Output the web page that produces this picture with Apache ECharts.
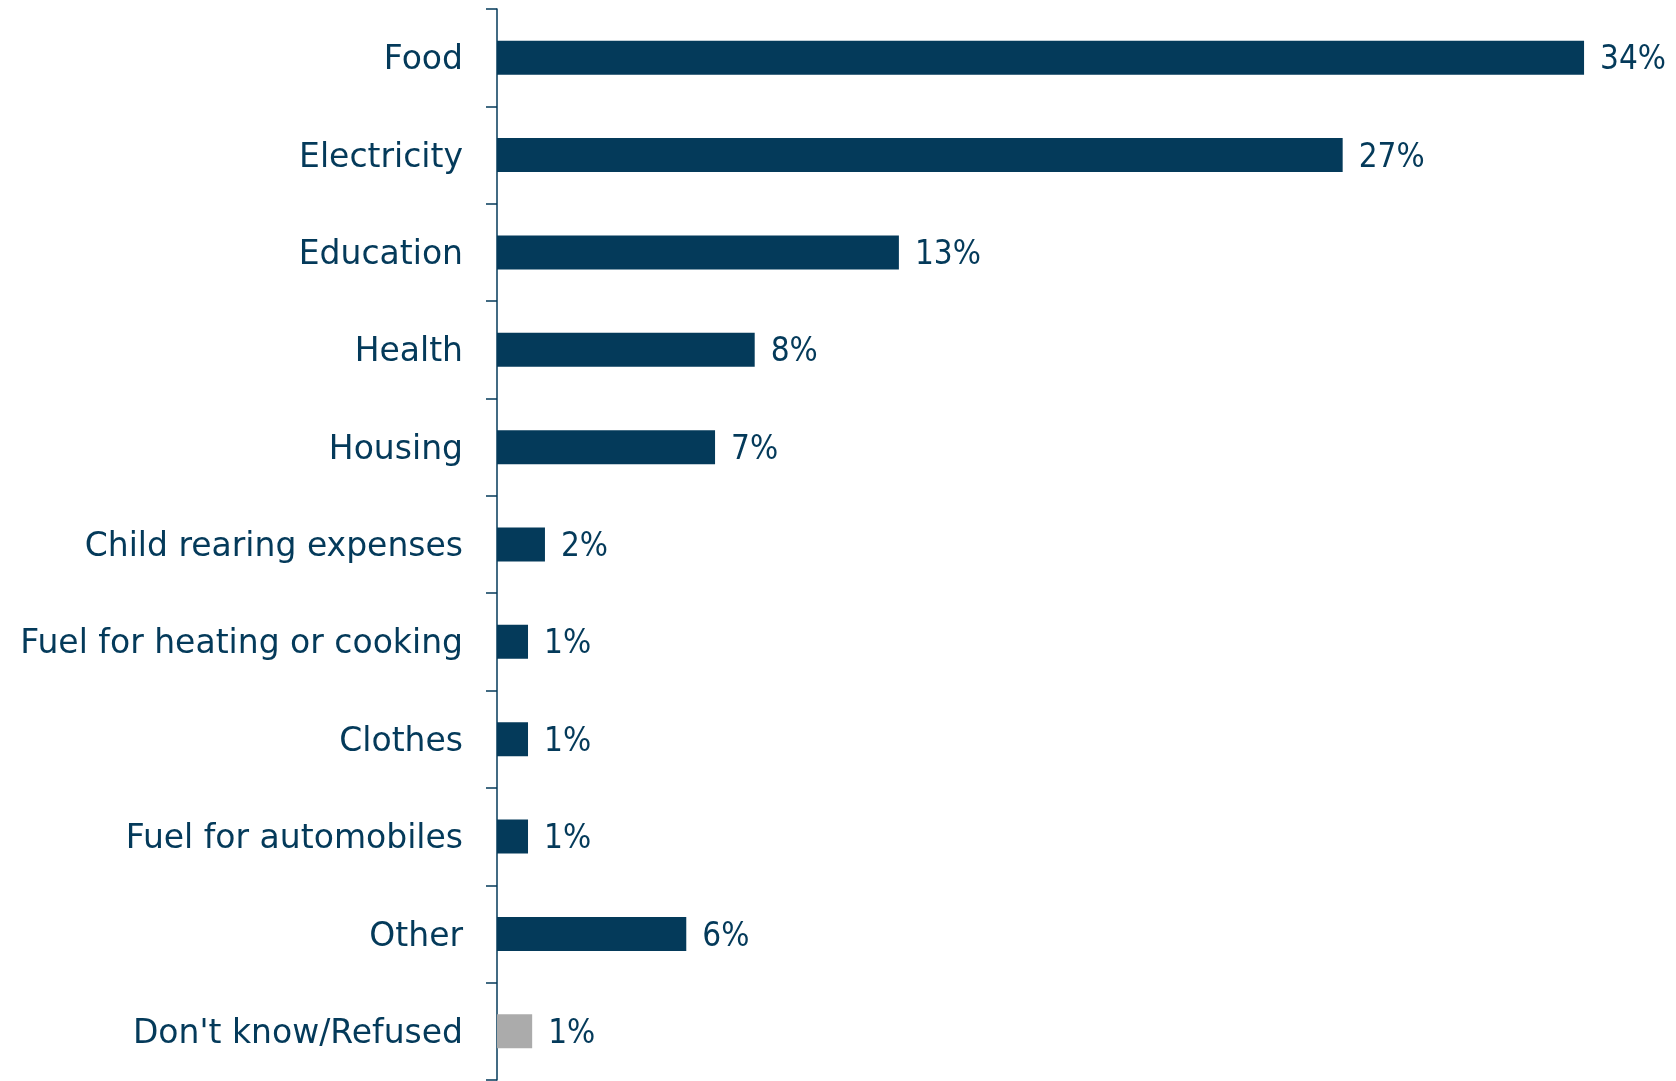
<!DOCTYPE html>
<html><head><meta charset="utf-8">
<script src="https://cdn.jsdelivr.net/npm/echarts@6/dist/echarts.min.js"></script>
<style>html,body{margin:0;padding:0;background:#fff}#c{width:1676px;height:1081px}</style>
</head><body><div id="c"></div>
<script>
const categories = ["Food","Electricity","Education","Health","Housing","Child rearing expenses","Fuel for heating or cooking","Clothes","Fuel for automobiles","Other","Don't know/Refused"];
const values = [34.0, 26.45, 12.57, 8.06, 6.82, 1.5, 0.97, 0.97, 0.97, 5.92, 1.1];
const valueLabels = ["34%","27%","13%","8%","7%","2%","1%","1%","1%","6%","1%"];
const greyCategories = ["Don't know/Refused"];

const NAVY = '#043a5a';
const FONT = '"DejaVu Sans", sans-serif';
const FONT_C = '"DejaVu Sans Condensed", "DejaVu Sans", sans-serif';
const chart = echarts.init(document.getElementById('c'), null, {renderer:'canvas'});
chart.setOption({
  animation:false,
  grid:{left:497, top:9, right:28, bottom:1, containLabel:false},
  xAxis:{type:'value', min:0, max:36, show:false},
  yAxis:{type:'category', data:categories, inverse:true,
    axisLine:{show:true, lineStyle:{color:NAVY, width:1.5}},
    axisTick:{show:true, inside:false, length:11, lineStyle:{color:NAVY, width:1.5}},
    axisLabel:{margin:34, color:NAVY, fontFamily:FONT, fontSize:33,
      formatter:v=>'{a|'+v+'}',
      rich:{a:{color:NAVY, fontFamily:FONT, fontSize:33, padding:[6,0,0,0]}}}
  },
  series:[{
    type:'bar', barWidth:34,
    data: values.map((v,i)=>({value:v, itemStyle:{color: greyCategories.includes(categories[i]) ? '#ababab' : NAVY}})),
    label:{show:true, position:'right', distance:16, offset:[0,3], color:NAVY, fontFamily:FONT_C, fontSize:33,
      formatter:p=>valueLabels[p.dataIndex]}
  }]
});
</script></body></html>
